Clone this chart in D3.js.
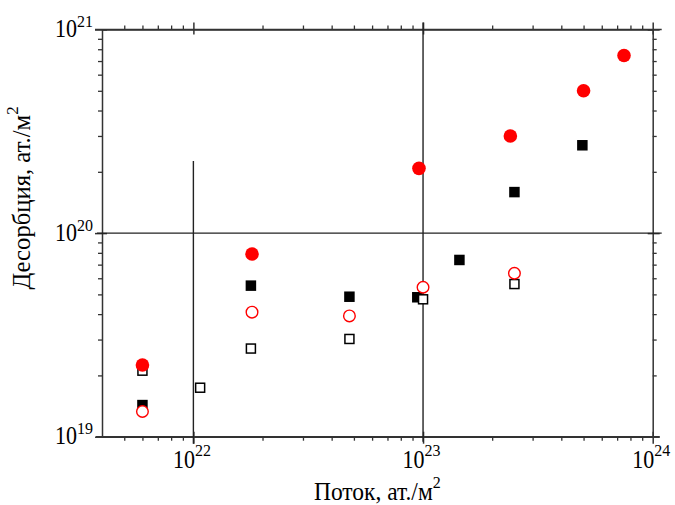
<!DOCTYPE html>
<html>
<head>
<meta charset="utf-8">
<script src="https://cdn.jsdelivr.net/npm/d3@7"></script>
<style>
  body { margin: 0; background: #fff; }
  svg { display: block; }
  text { font-family: "Liberation Serif", "Times New Roman", serif; fill: #000; }
</style>
</head>
<body>
<div id="chart"></div>
<script>
// Поток (at./m^2) vs Десорбция (at./m^2), four series
const filledCircleFlux = [6e21, 1.8e22, 9.6e22, 2.4e23, 5e23, 7.5e23];
const filledCircleDes  = [2.25e19, 7.9e19, 2.08e20, 3.0e20, 5.0e20, 7.45e20];

const filledSquareFlux = [6e21, 1.78e22, 4.78e22, 9.44e22, 1.44e23, 2.5e23, 4.94e23];
const filledSquareDes  = [1.43e19, 5.52e19, 4.87e19, 4.84e19, 7.38e19, 1.59e20, 2.70e20];

const openSquareFlux = [6e21, 1.07e22, 1.78e22, 4.78e22, 1e23, 2.5e23];
const openSquareDes  = [2.11e19, 1.74e19, 2.71e19, 3.02e19, 4.73e19, 5.62e19];

const openCircleFlux = [6e21, 1.8e22, 4.78e22, 1e23, 2.5e23];
const openCircleDes  = [1.33e19, 4.09e19, 3.92e19, 5.42e19, 6.35e19];

const xMajor = [1e22, 1e23, 1e24];
const yMajor = [1e19, 1e20, 1e21];
const xMinor = [5e21, 6e21, 7e21, 8e21, 9e21,
                2e22, 3e22, 4e22, 5e22, 6e22, 7e22, 8e22, 9e22,
                2e23, 3e23, 4e23, 5e23, 6e23, 7e23, 8e23, 9e23];
const yMinor = [2e19, 3e19, 4e19, 5e19, 6e19, 7e19, 8e19, 9e19,
                2e20, 3e20, 4e20, 5e20, 6e20, 7e20, 8e20, 9e20];
const xTickLabels = ["22", "23", "24"];
const yTickLabels = ["19", "20", "21"];

const W = 675, H = 505;
const margin = {top: 29.5, right: 22.3, bottom: 68.3, left: 102};
const width = W - margin.left - margin.right;
const height = H - margin.top - margin.bottom;

const svg = d3.select("#chart").append("svg")
    .attr("width", W)
    .attr("height", H);

const g = svg.append("g")
    .attr("transform", `translate(${margin.left},${margin.top})`);

const x = d3.scaleLog().domain([4e21, 1e24]).range([0, width]);
const y = d3.scaleLog().domain([1e19, 1e21]).range([height, 0]);

const axisColor = "#333";

// minor ticks, outward, with frame lines
function minorAxis(axis, vals, tr) {
    const a = g.append("g")
        .attr("transform", tr)
        .call(axis.tickValues(vals).tickSizeInner(4).tickSizeOuter(0).tickFormat(""));
    a.select(".domain").attr("stroke", axisColor).attr("stroke-width", 1.5);
    a.selectAll(".tick line").attr("stroke", axisColor).attr("stroke-width", 1.3);
    return a;
}
minorAxis(d3.axisBottom(x), xMinor, `translate(0,${height})`);
minorAxis(d3.axisTop(x), xMinor, "translate(0,0)");
minorAxis(d3.axisLeft(y), yMinor, "translate(0,0)");
minorAxis(d3.axisRight(y), yMinor, `translate(${width},0)`);

// major ticks cross the frame: 7 outward, 5 inward
function majorAxis(axis, vals, tr, inner) {
    const a = g.append("g")
        .attr("transform", tr)
        .call(axis.tickValues(vals).tickSizeInner(7).tickSizeOuter(0).tickFormat(""));
    a.select(".domain").remove();
    a.selectAll(".tick line").attr("stroke", axisColor).attr("stroke-width", 1.5).each(inner);
}
majorAxis(d3.axisBottom(x), xMajor, `translate(0,${height})`, function() { d3.select(this).attr("y1", -5); });
majorAxis(d3.axisTop(x), xMajor, "translate(0,0)", function() { d3.select(this).attr("y1", 5); });
majorAxis(d3.axisLeft(y), yMajor, "translate(0,0)", function() { d3.select(this).attr("x1", 5); });
majorAxis(d3.axisRight(y), yMajor, `translate(${width},0)`, function() { d3.select(this).attr("x1", -5); });
// corner extensions
g.append("line").attr("x1", -7).attr("x2", width + 9).attr("y1", 0).attr("y2", 0)
    .attr("stroke", axisColor).attr("stroke-width", 1.5);
g.append("line").attr("x1", -6).attr("x2", width + 7).attr("y1", height).attr("y2", height)
    .attr("stroke", axisColor).attr("stroke-width", 1.5);

// grid lines
const gridColor = "#222";
g.append("line")
    .attr("x1", -5).attr("x2", width + 9)
    .attr("y1", y(1e20)).attr("y2", y(1e20))
    .attr("stroke", gridColor).attr("stroke-width", 1.4);
g.append("line")
    .attr("x1", x(1e23)).attr("x2", x(1e23))
    .attr("y1", -7).attr("y2", height + 5)
    .attr("stroke", gridColor).attr("stroke-width", 1.4);
g.append("line")
    .attr("x1", x(1e22)).attr("x2", x(1e22))
    .attr("y1", y(2.26e20)).attr("y2", height + 7)
    .attr("stroke", gridColor).attr("stroke-width", 1.4);

// text helper: base + superscript, slightly stretched vertically like the source
function powLabel(px, py, base, sup, size, supSize, supRise, anchor) {
    const t = svg.append("g")
        .attr("transform", `translate(${px},${py}) scale(1,1.1)`)
        .append("text")
        .attr("text-anchor", anchor)
        .attr("font-size", size);
    t.append("tspan").text(base);
    t.append("tspan").attr("font-size", supSize).attr("dy", -supRise).text(sup);
    return t;
}

xMajor.forEach((v, i) => {
    powLabel(margin.left + x(v) - 1.5, 468, "10", xTickLabels[i], 22, 16, 11, "middle");
});
yMajor.forEach((v, i) => {
    powLabel(93, margin.top + y(v) + 7.5, "10", yTickLabels[i], 22, 16, 9, "end");
});

// axis titles
powLabel(margin.left + width / 2, 500, "Поток, ат./м", "2", 23.5, 16, 11, "middle");

const yt = svg.append("g")
    .attr("transform", "translate(30,198) rotate(-90) scale(1.05,1.1)")
    .append("text")
    .attr("text-anchor", "middle")
    .attr("font-size", 23.5);
yt.append("tspan").text("Десорбция, ат./м");
yt.append("tspan").attr("font-size", 16).attr("dy", -11).text("2");

// markers
function zip(a, b) { return a.map((v, i) => [v, b[i]]); }
const sq = 10.5;

g.append("g").selectAll("rect")
    .data(zip(filledSquareFlux, filledSquareDes))
    .join("rect")
    .attr("x", d => x(d[0]) - sq / 2)
    .attr("y", d => y(d[1]) - sq / 2)
    .attr("width", sq).attr("height", sq)
    .attr("fill", "#000");

g.append("g").selectAll("rect")
    .data(zip(openSquareFlux, openSquareDes))
    .join("rect")
    .attr("x", d => x(d[0]) - (sq - 1.5) / 2)
    .attr("y", d => y(d[1]) - (sq - 1.5) / 2)
    .attr("width", sq - 1.5).attr("height", sq - 1.5)
    .attr("fill", "#fff")
    .attr("stroke", "#000")
    .attr("stroke-width", 1.5);

g.append("g").selectAll("circle")
    .data(zip(openCircleFlux, openCircleDes))
    .join("circle")
    .attr("cx", d => x(d[0]))
    .attr("cy", d => y(d[1]))
    .attr("r", 5.8)
    .attr("fill", "#fff")
    .attr("stroke", "#ff0000")
    .attr("stroke-width", 1.4);

g.append("g").selectAll("circle")
    .data(zip(filledCircleFlux, filledCircleDes))
    .join("circle")
    .attr("cx", d => x(d[0]))
    .attr("cy", d => y(d[1]))
    .attr("r", 6.8)
    .attr("fill", "#ff0000");
</script>
</body>
</html>
